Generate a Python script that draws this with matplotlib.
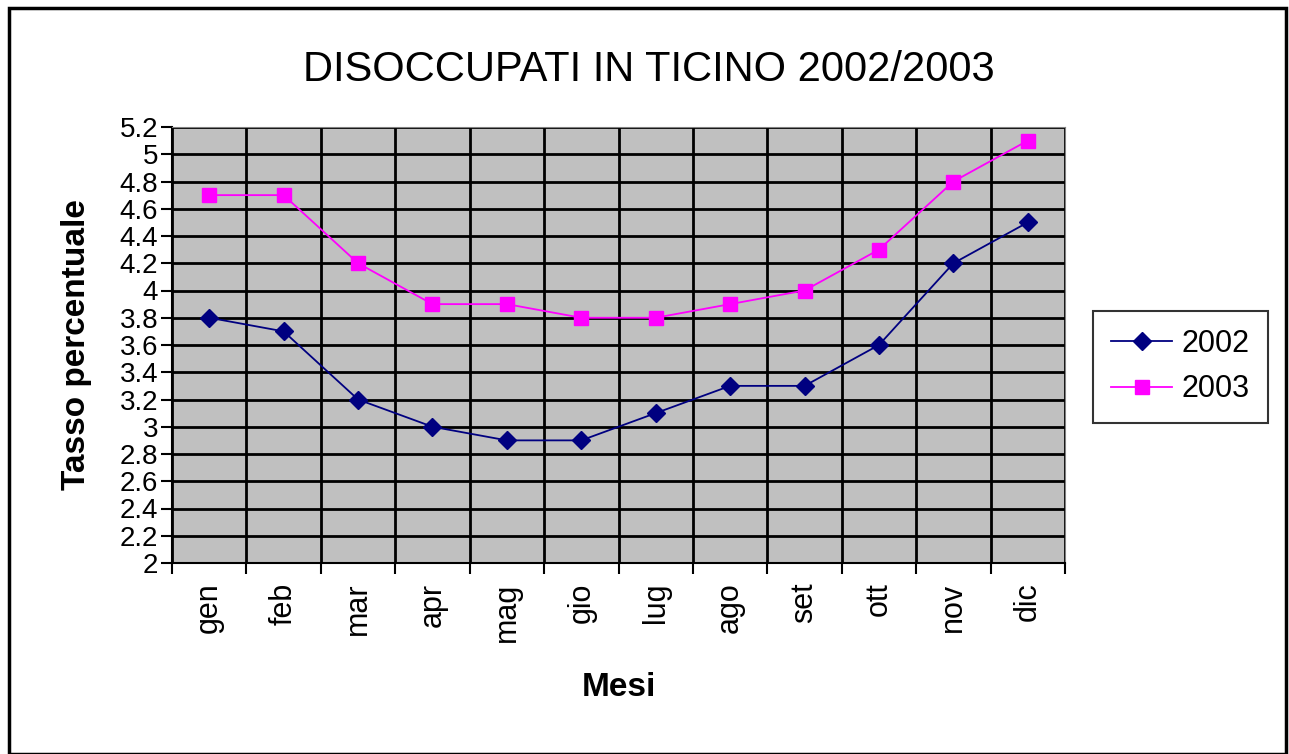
import matplotlib
matplotlib.use("Agg")
import matplotlib.pyplot as plt
from matplotlib.patches import Rectangle

plt.rcParams['font.family'] = ['Liberation Sans', 'DejaVu Sans']

months = ["gen", "feb", "mar", "apr", "mag", "gio", "lug", "ago", "set", "ott", "nov", "dic"]
rate_2002 = [3.8, 3.7, 3.2, 3.0, 2.9, 2.9, 3.1, 3.3, 3.3, 3.6, 4.2, 4.5]
rate_2003 = [4.7, 4.7, 4.2, 3.9, 3.9, 3.8, 3.8, 3.9, 4.0, 4.3, 4.8, 5.1]
yticks = [2.0, 2.2, 2.4, 2.6, 2.8, 3.0, 3.2, 3.4, 3.6, 3.8, 4.0, 4.2, 4.4, 4.6, 4.8, 5.0, 5.2]

fig = plt.figure(figsize=(12.89, 7.54), dpi=100)
ax = fig.add_axes([172 / 1289, 1 - 563 / 754, 893 / 1289, 436 / 754])
ax.set_facecolor("#c0c0c0")

# outer frame of the chart area
fig.patches.append(Rectangle((0.007, 0.0), 0.991, 0.99, transform=fig.transFigure,
                             fill=False, edgecolor="black", linewidth=2.5))

x = list(range(len(months)))
ax.plot(x, rate_2002, color="#000080", marker="D", markersize=9, linewidth=1.3, label="2002")
ax.plot(x, rate_2003, color="#ff00ff", marker="s", markersize=10, linewidth=1.3, label="2003")

ax.set_xlim(-0.5, len(months) - 0.5)
ax.set_ylim(2.0, 5.2)
ax.set_yticks(yticks)
ax.set_yticklabels([f"{v:g}" for v in yticks], fontsize=20)

# category boundaries as ticks / vertical gridlines
bounds = [i - 0.5 for i in range(len(months) + 1)]
ax.set_xticks(bounds)
ax.set_xticklabels([])
ax.set_xticks(x, minor=True)
ax.set_xticklabels(months, minor=True, rotation=90, fontsize=22)
ax.tick_params(axis="x", which="minor", length=0, pad=14)
ax.tick_params(axis="x", which="major", length=8, width=1.5, direction="out")
ax.tick_params(axis="y", length=8, width=1.5, direction="out", pad=2)

ax.grid(True, which="major", color="black", linewidth=2)
ax.set_axisbelow(True)
for side in ["top", "right"]:
    ax.spines[side].set_color("#808080")
for side in ["left", "bottom"]:
    ax.spines[side].set_linewidth(1.5)

fig.text(649 / 1289, 1 - 70 / 754, "DISOCCUPATI IN TICINO 2002/2003", fontsize=30,
         ha="center", va="center")
ax.set_xlabel("Mesi", fontsize=24, fontweight="bold", labelpad=22)
ax.set_ylabel("Tasso percentuale", fontsize=24, fontweight="bold", labelpad=20)

leg = ax.legend(loc="center left", bbox_to_anchor=(1.031, 0.45), fontsize=22, frameon=True,
                fancybox=False, edgecolor="black", handlelength=2.0, borderpad=0.6,
                labelspacing=0.5, handletextpad=0.3, borderaxespad=0)
leg.get_frame().set_linewidth(1.5)

fig.savefig("out.png", dpi=100)
